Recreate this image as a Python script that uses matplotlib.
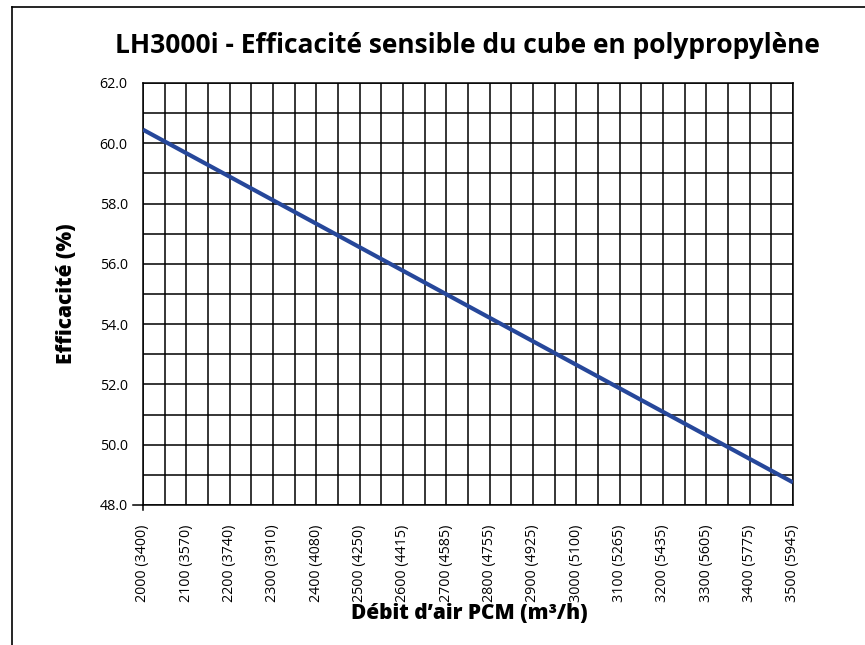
import matplotlib.pyplot as plt
from matplotlib.lines import Line2D

# débit PCM, débit m3/h, efficacité (%)
pcm = [2000, 2100, 2200, 2300, 2400, 2500, 2600, 2700,
       2800, 2900, 3000, 3100, 3200, 3300, 3400, 3500]
m3h = [3400, 3570, 3740, 3910, 4080, 4250, 4415, 4585,
       4755, 4925, 5100, 5265, 5435, 5605, 5775, 5945]
eff = [60.45, 59.67, 58.89, 58.11, 57.33, 56.55, 55.77, 54.99,
       54.21, 53.43, 52.65, 51.87, 51.09, 50.31, 49.53, 48.75]

yticks = [48, 50, 52, 54, 56, 58, 60, 62]

plt.rcParams['font.family'] = ['Open Sans', 'DejaVu Sans']

fig = plt.figure(figsize=(8.65, 6.45), dpi=100)
ax = fig.add_axes([0.1653, 0.2171, 0.7514, 0.6543])

# grille
for x in range(2000, 3501, 50):
    ax.axvline(x, color='black', lw=1.1, zorder=1)
for y in range(48, 63):
    ax.axhline(y, color='black', lw=1.1, zorder=1)

ax.plot(pcm, eff, color='#26479a', lw=3.0, zorder=3, solid_capstyle='butt')

ax.set_xlim(2000, 3500)
ax.set_ylim(48, 62)
ax.set_xticks(pcm)
ax.set_xticklabels([f"{a} ({b})" for a, b in zip(pcm, m3h)], rotation=90, fontsize=10.3)
ax.set_yticks(yticks)
ax.set_yticklabels([f"{v:.1f}" for v in yticks], fontsize=10.3)
ax.tick_params(length=0)
ax.tick_params(axis='y', pad=11)
ax.tick_params(axis='x', pad=14)
for s in ax.spines.values():
    s.set_linewidth(1.1)

# petits dépassements des axes en bas à gauche
ax.add_line(Line2D([-0.016, 0], [0, 0], transform=ax.transAxes, color='black',
                   lw=1.1, clip_on=False))
ax.add_line(Line2D([0, 0], [-0.012, 0], transform=ax.transAxes, color='black',
                   lw=1.1, clip_on=False))

fig.text(0.542, 0.0496, "Débit d’air PCM (m³/h)", ha='center', va='center',
         fontsize=15, fontweight='heavy')
fig.text(0.077, 0.544, "Efficacité (%)", ha='center', va='center', rotation=90,
         fontsize=15, fontweight='heavy')

fig.text(0.54, 0.93, "LH3000i - Efficacité sensible du cube en polypropylène",
         ha='center', va='center', fontsize=19, fontweight='bold')

# cadre
fig.add_artist(Line2D([0.014, 0.014], [0.0, 0.989], color='black', lw=1.2))
fig.add_artist(Line2D([0.014, 1.0], [0.989, 0.989], color='black', lw=1.2))

fig.savefig("out.png", dpi=100)
